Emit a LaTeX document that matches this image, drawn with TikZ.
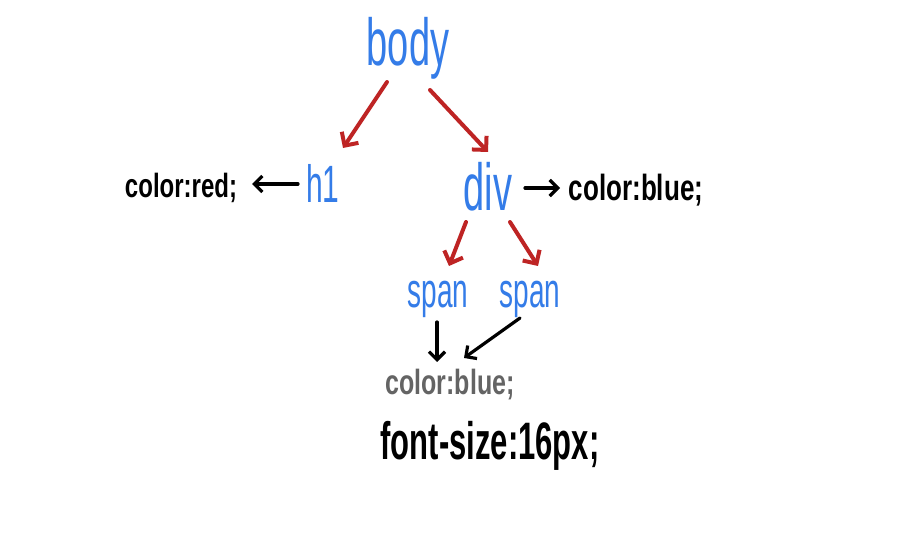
\documentclass[tikz,border=0pt]{standalone}
\usepackage{fontspec}
\usepackage{graphicx}
\setmainfont{Liberation Sans}
\usetikzlibrary{arrows.meta}
\definecolor{hblue}{RGB}{52,124,232}
\definecolor{hred}{RGB}{190,36,36}
\definecolor{hgray}{RGB}{100,100,100}
\newcommand{\tallb}[1]{\scalebox{1}[1.75]{#1}}
\newcommand{\tallk}[1]{\scalebox{1}[1.4]{#1}}
\tikzset{
  tagtext/.style={text=hblue, inner sep=0pt},
  proptext/.style={text=black, inner sep=0pt, font=\bfseries\fontsize{24}{28}\selectfont},
  redarrow/.style={draw=hred, line width=4pt, line cap=round, line join=round, -{Straight Barb[length=10pt,width=20pt,line width=4pt]}},
  blackarrow/.style={draw=black, line width=3.2pt, line cap=round, line join=round, -{Straight Barb[length=8pt,width=16pt,line width=3.2pt]}}
}
\begin{document}
\begin{tikzpicture}[x=1pt,y=-1pt]
\useasboundingbox[fill=white] (0,0) rectangle (922,548);
\node[tagtext, font=\fontsize{38}{44}\selectfont] (body) at (408,48) {\tallb{body}};
\node[tagtext, font=\fontsize{30}{36}\selectfont] (h1) at (323,183) {\tallb{h1}};
\node[tagtext, font=\fontsize{38}{44}\selectfont] (div) at (488,187) {\tallb{div}};
\node[tagtext, font=\fontsize{28}{34}\selectfont] (span1) at (438,299) {\tallb{span}};
\node[tagtext, font=\fontsize{28}{34}\selectfont] (span2) at (530,299) {\tallb{span}};
\node[proptext] (cred) at (181,188) {\tallk{color:red;}};
\node[proptext, font=\bfseries\fontsize{26}{30}\selectfont] (cblue) at (636,190) {\tallk{color:blue;}};
\node[proptext, text=hgray, font=\bfseries\fontsize{25}{30}\selectfont] (cgray) at (450,385) {\tallk{color:blue;}};
\node[proptext, font=\bfseries\fontsize{31}{36}\selectfont] (fsize) at (490,446) {\scalebox{1}[1.7]{font-size:16px;}};

\draw[redarrow] ([shift={(-21,34)}]body.center) -- ([shift={(20,-35)}]h1.center);
\draw[redarrow] ([shift={(22,42)}]body.center) -- ([shift={(0,-35)}]div.center);
\draw[redarrow] ([shift={(-22,35)}]div.center) -- ([shift={(11,-33)}]span1.center);
\draw[redarrow] ([shift={(22,35)}]div.center) -- ([shift={(8,-33)}]span2.center);
\draw[blackarrow] ([shift={(-25,1)}]h1.center) -- ([shift={(71,-4)}]cred.center);
\draw[blackarrow] ([shift={(37,1)}]div.center) -- ([shift={(-76,-2)}]cblue.center);
\draw[blackarrow] ([shift={(-1,23)}]span1.center) -- ([shift={(-13,-23)}]cgray.center);
\draw[blackarrow] ([shift={(-10,19)}]span2.center) -- ([shift={(14,-27)}]cgray.center);
\end{tikzpicture}
\end{document}
